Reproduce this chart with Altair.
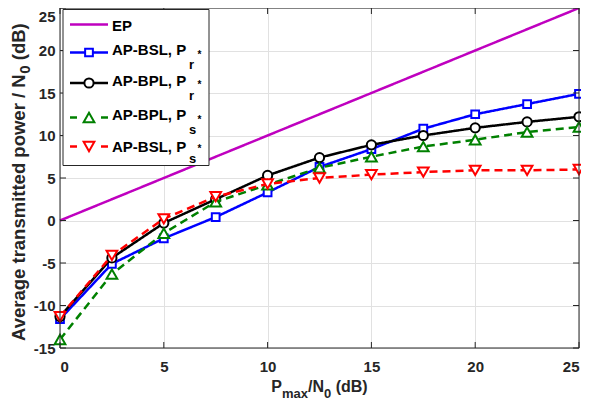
import altair as alt
import pandas as pd

# ---------------- data ----------------
x_vals = [0, 2.5, 5, 7.5, 10, 12.5, 15, 17.5, 20, 22.5, 25]
ep_vals = [0, 2.5, 5, 7.5, 10, 12.5, 15, 17.5, 20, 22.5, 25]
bsl_pr = [-11.6, -5.1, -2.1, 0.4, 3.3, 6.3, 8.4, 10.8, 12.5, 13.7, 14.9]
bpl_pr = [-11.3, -4.4, -0.3, 2.5, 5.3, 7.4, 8.9, 10.0, 10.9, 11.6, 12.2]
bpl_ps = [-14.0, -6.3, -1.5, 2.2, 4.2, 6.2, 7.5, 8.7, 9.5, 10.4, 11.0]
bsl_ps = [-11.3, -4.1, 0.2, 2.8, 4.3, 5.0, 5.4, 5.7, 5.9, 5.9, 6.0]

legend_main = ["EP", "AP-BSL, P", "AP-BPL, P", "AP-BPL, P", "AP-BSL, P"]
legend_sub = ["", "r", "r", "s", "s"]

x_ticks = [0, 5, 10, 15, 20, 25]
y_ticks = [-15, -10, -5, 0, 5, 10, 15, 20, 25]

# title pieces: (text, is_subscript)
x_title_parts = [("P", False), ("max", True), ("/N", False), ("0", True), (" (dB)", False)]
y_title_parts = [("Average transmitted power / N", False), ("0", True), (" (dB)", False)]

# ---------------- styles ----------------
W, H = 519, 340
FONT = "Liberation Sans"
AX = "#262626"
colors = ["#BF00BF", "#0000FF", "#000000", "#008000", "#FF0000"]
dashes = [[1, 0], [1, 0], [1, 0], [8, 5], [8, 5]]
shapes = [None, "square", "circle", "triangle-up", "triangle-down"]
sizes = [0, 60, 85, 115, 115]
series = [ep_vals, bsl_pr, bpl_pr, bpl_ps, bsl_ps]

# Arial/Liberation Sans Bold advance widths (per 1000 em)
ADV = {" ": 278, "(": 333, ")": 333, "/": 278, "0": 556, "A": 722, "B": 722,
       "N": 722, "P": 667, "a": 556, "d": 611, "e": 556, "g": 611, "i": 278,
       "m": 889, "n": 611, "o": 611, "p": 611, "r": 389, "s": 556, "t": 333,
       "v": 556, "w": 778, "x": 556}


def text_w(s, size):
    return sum(ADV.get(c, 556) for c in s) * size / 1000.0


xs = alt.Scale(domain=[0, 25], nice=False, zero=False)
ys = alt.Scale(domain=[-15, 25], nice=False, zero=False)

x_axis = alt.Axis(values=x_ticks, title="", grid=True, gridColor="#e1e1e1",
                  domain=False, ticks=False, labelFont=FONT, labelFontSize=15,
                  labelFontWeight="bold", labelColor=AX, labelPadding=11,
                  labelExpr="'' + datum.value")
y_axis = alt.Axis(values=y_ticks, title="", grid=True, gridColor="#e1e1e1",
                  domain=False, ticks=False, labelFont=FONT, labelFontSize=15,
                  labelFontWeight="bold", labelColor=AX, labelPadding=5,
                  labelOffset={"condition": {"test": "datum.value == 25", "value": 8.5},
                               "value": 0},
                  labelExpr="'' + datum.value")

one = pd.DataFrame({"k": [0]})
layers = []

# series
for i, vals in enumerate(series):
    df = pd.DataFrame({"x": x_vals, "y": vals})
    base = alt.Chart(df).encode(
        x=alt.X("x:Q", scale=xs, axis=x_axis),
        y=alt.Y("y:Q", scale=ys, axis=y_axis),
    )
    layers.append(base.mark_line(color=colors[i], strokeWidth=2.5,
                                 strokeDash=dashes[i]))
    if shapes[i]:
        layers.append(base.mark_point(shape=shapes[i], size=sizes[i], filled=False,
                                      fill="white", fillOpacity=1,
                                      stroke=colors[i], strokeWidth=2, opacity=1))

# inward ticks
xt = pd.DataFrame({"t": x_ticks})
yt = pd.DataFrame({"t": y_ticks})
for y0, y1 in [(H, H - 6), (0, 6)]:
    layers.append(alt.Chart(xt).mark_rule(color=AX, strokeWidth=1).encode(
        x=alt.X("t:Q", scale=xs, axis=x_axis), y=alt.value(y0), y2=alt.value(y1)))
for x0, x1 in [(0, 6), (W, W - 6)]:
    layers.append(alt.Chart(yt).mark_rule(color=AX, strokeWidth=1).encode(
        y=alt.Y("t:Q", scale=ys, axis=y_axis), x=alt.value(x0), x2=alt.value(x1)))

# frame
layers.append(alt.Chart(one).mark_rect(fillOpacity=0, stroke=AX, strokeWidth=1).encode(
    x=alt.value(0), x2=alt.value(W), y=alt.value(0), y2=alt.value(H)))


def txt(s, x, y, size, angle=0):
    return alt.Chart(one).mark_text(align="left", baseline="alphabetic", font=FONT,
                                    fontSize=size, fontWeight="bold", color=AX,
                                    angle=angle).encode(
        x=alt.value(x), y=alt.value(y), text=alt.value(s))


def lead(s, size):
    # width of leading spaces (SVG collapses them)
    return text_w(s[:len(s) - len(s.lstrip())], size)


# ---------------- axis titles (composed for real subscripts) ----------------
XM, XS = 16, 13
total = sum(text_w(s, XS if sub else XM) for s, sub in x_title_parts)
cx = W / 2 - total / 2
for s, sub in x_title_parts:
    size = XS if sub else XM
    layers.append(txt(s.strip(), cx + lead(s, size), 390 if sub else 384, size))
    cx += text_w(s, size)

YM, YS = 18.5, 15
cy = 333
for s, sub in y_title_parts:
    size = YS if sub else YM
    layers.append(txt(s.strip(), -30 if sub else -35, cy - lead(s, size), size, angle=270))
    cy -= text_w(s, size)

# ---------------- legend (drawn manually) ----------------
LX0, LX1, LY0, LY1 = 3, 149, 1.5, 157.5
line_y = [16.5, 44.5, 75, 109.5, 138.5]
base_y = [23.3, 46.8, 77.5, 111.8, 143.5]
sub_y = [0, 60.5, 91.5, 126.3, 155.3]

layers.append(alt.Chart(one).mark_rect(fill="white", fillOpacity=1, stroke=AX,
                                       strokeWidth=1).encode(
    x=alt.value(LX0), x2=alt.value(LX1), y=alt.value(LY0), y2=alt.value(LY1)))

for i in range(5):
    ly = line_y[i]
    if dashes[i][1] == 0:
        layers.append(alt.Chart(one).mark_rule(color=colors[i], strokeWidth=2.5).encode(
            x=alt.value(10), x2=alt.value(48), y=alt.value(ly)))
    else:
        for a, b in [(10, 17), (41, 48)]:
            layers.append(alt.Chart(one).mark_rule(color=colors[i], strokeWidth=2.5).encode(
                x=alt.value(a), x2=alt.value(b), y=alt.value(ly)))
    if shapes[i]:
        layers.append(alt.Chart(one).mark_point(shape=shapes[i], size=sizes[i],
                                                filled=False, fill="white", fillOpacity=1,
                                                stroke=colors[i], strokeWidth=2,
                                                opacity=1).encode(
            x=alt.value(29), y=alt.value(ly)))
    layers.append(alt.Chart(one).mark_text(align="left", baseline="alphabetic",
                                           font=FONT, fontSize=15, fontWeight="bold",
                                           color="#000000").encode(
        x=alt.value(52), y=alt.value(base_y[i]), text=alt.value(legend_main[i])))
    if legend_sub[i]:
        layers.append(alt.Chart(one).mark_text(align="left", baseline="alphabetic",
                                               font=FONT, fontSize=13, fontWeight="bold",
                                               color="#000000").encode(
            x=alt.value(129), y=alt.value(sub_y[i]), text=alt.value(legend_sub[i])))
        layers.append(alt.Chart(one).mark_text(align="left", baseline="middle",
                                               font=FONT, fontSize=10, fontWeight="bold",
                                               color="#000000").encode(
            x=alt.value(137.5), y=alt.value(ly + 2), text=alt.value("*")))

chart = alt.layer(*layers).properties(
    width=W, height=H,
    padding={"left": 52, "top": 0, "right": 2, "bottom": 53},
    autosize=alt.AutoSizeParams(type="none"),
).configure_view(stroke=None)

chart.save("out.html", embed_options={"renderer": "svg", "actions": False})
